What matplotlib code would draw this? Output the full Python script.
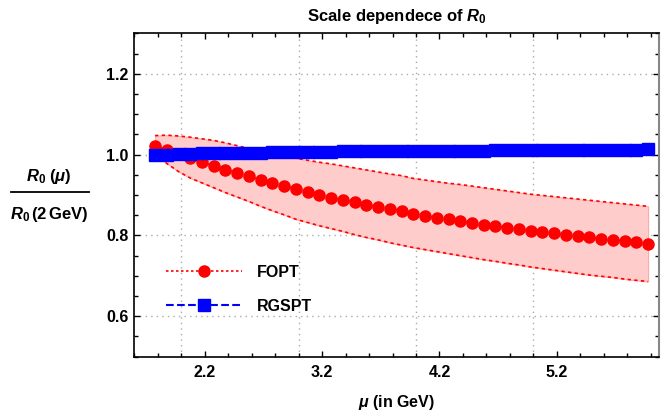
import matplotlib
matplotlib.use('Agg')
import matplotlib.pyplot as plt
from matplotlib.lines import Line2D
from matplotlib.ticker import MultipleLocator, FixedLocator

plt.rcParams['font.family'] = ['Liberation Sans', 'DejaVu Sans']
plt.rcParams['font.weight'] = 'bold'
plt.rcParams['mathtext.fontset'] = 'custom'
plt.rcParams['mathtext.it'] = 'Liberation Sans:italic:bold'
plt.rcParams['mathtext.rm'] = 'Liberation Sans:bold'
plt.rcParams['mathtext.bf'] = 'Liberation Sans:bold'

# mu in GeV, from m_tau in steps of 0.1
mu = [1.777, 1.877, 1.977, 2.077, 2.177, 2.277, 2.377, 2.477, 2.577, 2.677,
      2.777, 2.877, 2.977, 3.077, 3.177, 3.277, 3.377, 3.477, 3.577, 3.677,
      3.777, 3.877, 3.977, 4.077, 4.177, 4.277, 4.377, 4.477, 4.577, 4.677,
      4.777, 4.877, 4.977, 5.077, 5.177, 5.277, 5.377, 5.477, 5.577, 5.677,
      5.777, 5.877, 5.977]

fopt = [1.022, 1.012, 1.002, 0.992, 0.981, 0.972, 0.963, 0.954, 0.946, 0.938,
        0.930, 0.922, 0.915, 0.907, 0.901, 0.893, 0.888, 0.882, 0.876, 0.870,
        0.866, 0.860, 0.853, 0.848, 0.844, 0.840, 0.835, 0.830, 0.827, 0.823,
        0.819, 0.815, 0.812, 0.808, 0.805, 0.801, 0.798, 0.795, 0.792, 0.789,
        0.786, 0.784, 0.779]

fopt_hi = [1.047, 1.048, 1.046, 1.043, 1.039, 1.035, 1.029, 1.022, 1.015, 1.008,
           1.001, 0.996, 0.991, 0.986, 0.981, 0.977, 0.972, 0.967, 0.962, 0.957,
           0.952, 0.948, 0.941, 0.937, 0.933, 0.929, 0.926, 0.922, 0.918, 0.914,
           0.910, 0.906, 0.902, 0.899, 0.896, 0.893, 0.890, 0.887, 0.884, 0.881,
           0.878, 0.875, 0.872]

fopt_lo = [1.000, 0.978, 0.958, 0.942, 0.930, 0.918, 0.906, 0.895, 0.884, 0.872,
           0.861, 0.851, 0.840, 0.832, 0.824, 0.817, 0.810, 0.802, 0.795, 0.789,
           0.782, 0.776, 0.770, 0.765, 0.760, 0.755, 0.750, 0.745, 0.740, 0.736,
           0.731, 0.727, 0.722, 0.718, 0.714, 0.710, 0.706, 0.702, 0.699, 0.696,
           0.692, 0.689, 0.686]

rgspt = [0.999, 1.000, 1.001, 1.002, 1.003, 1.003, 1.004, 1.004, 1.005, 1.005,
         1.006, 1.006, 1.006, 1.007, 1.007, 1.007, 1.008, 1.008, 1.008, 1.008,
         1.009, 1.009, 1.009, 1.009, 1.010, 1.010, 1.010, 1.010, 1.010, 1.011,
         1.011, 1.011, 1.011, 1.011, 1.011, 1.012, 1.012, 1.012, 1.012, 1.012,
         1.012, 1.012, 1.013]

xticks_major = [2.2, 3.2, 4.2, 5.2]
xgrid = [2.0, 3.0, 4.0, 5.0]
yticks_major = [0.6, 0.8, 1.0, 1.2]

fig = plt.figure(figsize=(6.68, 4.13), dpi=100)
ax = fig.add_axes([0.201, 0.1363, 0.7855, 0.7831])

# band
ax.fill_between(mu, fopt_lo, fopt_hi, facecolor='#ffcccc', edgecolor='#ffaaaa',
                linewidth=0.8, zorder=1)
ax.plot(mu, fopt_hi, color='red', linestyle=(0, (2, 2)), linewidth=1.2, zorder=2)
ax.plot(mu, fopt_lo, color='red', linestyle=(0, (2, 2)), linewidth=1.2, zorder=2)

ax.plot(mu, fopt, color='red', linestyle=(0, (1.5, 1.5)), linewidth=1.2,
        marker='o', markersize=8, label='FOPT', zorder=3)
ax.plot(mu, rgspt, color='blue', linestyle='--', linewidth=1.5,
        marker='s', markersize=8, label='RGSPT', zorder=4)

# grid
for g in xgrid:
    ax.axvline(g, color='#aaaaaa', linestyle=(0, (1, 3)), linewidth=1.0, zorder=0)
for g in yticks_major:
    ax.axhline(g, color='#aaaaaa', linestyle=(0, (1, 3)), linewidth=1.0, zorder=0)

ax.set_xlim(1.6, 6.07)
ax.set_ylim(0.5, 1.3)
ax.xaxis.set_major_locator(FixedLocator(xticks_major))
ax.xaxis.set_minor_locator(MultipleLocator(0.2))
ax.yaxis.set_major_locator(FixedLocator(yticks_major))
ax.yaxis.set_minor_locator(MultipleLocator(0.05))
ax.set_xticklabels(['2.2', '3.2', '4.2', '5.2'])
ax.set_yticklabels(['0.6', '0.8', '1.0', '1.2'])
ax.tick_params(which='both', direction='in', top=True, right=True,
               labelsize=11.5, width=1.0)
ax.tick_params(which='major', length=4.5)
ax.tick_params(which='minor', length=2.8)
ax.tick_params(axis='x', pad=6)
ax.tick_params(axis='y', pad=4)
for lab in ax.get_xticklabels() + ax.get_yticklabels():
    lab.set_fontweight('bold')
for s in ['left', 'bottom', 'top']:
    ax.spines[s].set_linewidth(1.2)
ax.spines['right'].set_color('#888888')
ax.spines['right'].set_linewidth(1.5)

ax.legend(loc='upper left', bbox_to_anchor=(0.06, 0.285), frameon=False,
          handlelength=4.8, handletextpad=0.9, labelspacing=1.2,
          borderpad=0, borderaxespad=0, prop={'size': 11.5, 'weight': 'bold'})

fig.text(0.594, 1 - 16 / 413, 'Scale dependece of $R_0$', ha='center',
         va='center', fontsize=12, fontweight='bold')
fig.text(0.594, 1 - 402 / 413, r'$\mu$ (in GeV)', ha='center', va='center',
         fontsize=11.5, fontweight='bold')

# y label as a fraction
fig.text(49 / 668, 1 - 177 / 413, r'$R_0\;(\mu)$', ha='center', va='center',
         fontsize=12, fontweight='bold')
fig.text(49 / 668, 1 - 214 / 413, r'$R_0\,(\mathrm{2\,GeV})$', ha='center',
         va='center', fontsize=12, fontweight='bold')
fig.add_artist(Line2D([11 / 668, 89 / 668], [1 - 192 / 413, 1 - 192 / 413],
                      color='black', linewidth=1.3, transform=fig.transFigure))

fig.savefig('out.png', dpi=100)
